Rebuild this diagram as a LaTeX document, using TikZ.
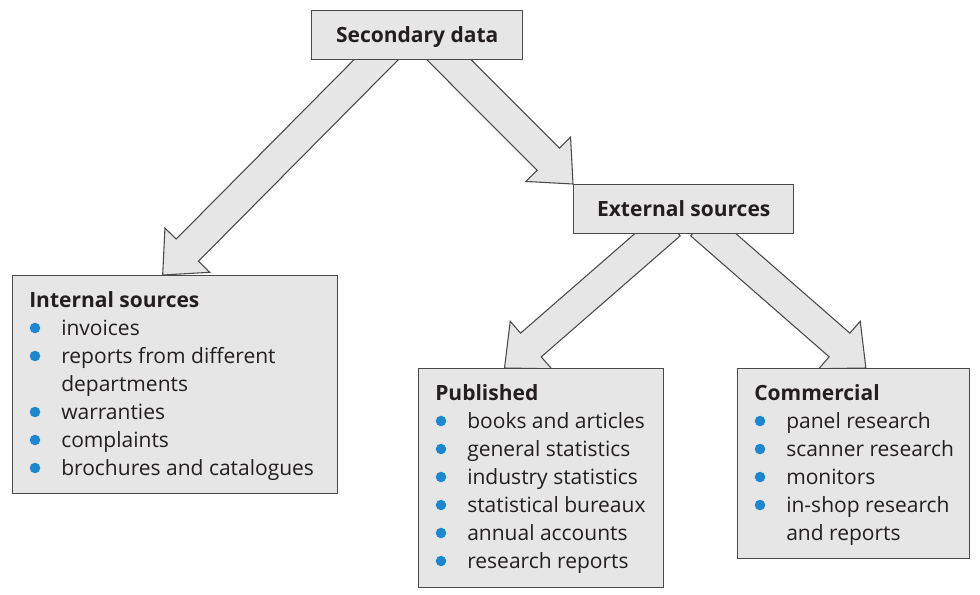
\documentclass[tikz,border=0pt]{standalone}
\usepackage{fontspec}
\setmainfont{Open Sans}
\usetikzlibrary{calc}
\definecolor{boxfill}{HTML}{E6E6E6}
\definecolor{boxline}{HTML}{4A4A4A}
\definecolor{bulletblue}{HTML}{1C86CF}
\definecolor{textcol}{HTML}{231F20}
\pgfdeclarelayer{bg}
\pgfsetlayers{bg,main}
\newcommand\shaftw{11.8pt}
\newcommand\headw{23.6pt}
\newcommand\headl{26.25pt}
\newcommand\blockarrow[2]{%
  \coordinate (BAs) at ($(#1)!-12pt!(#2)$);
  \coordinate (BAh) at ($(#2)!\headl!(#1)$);
  \filldraw[arrowshape]
    ($(BAs)!\shaftw!90:(#2)$) -- ($(BAh)!\shaftw!90:(#2)$) --
    ($(BAh)!\headw!90:(#2)$) -- (#2) --
    ($(BAh)!\headw!-90:(#2)$) -- ($(BAh)!\shaftw!-90:(#2)$) --
    ($(BAs)!\shaftw!-90:(#2)$) -- cycle;}
\newcommand\boxtitle[3]{%
  \node[titletext] (#1) at ($(#2.north west)+(17,32)$) {#3};}
\newcommand\bulletitem[4]{%
  \node[itemtext] (#1) at ($(#2.north west)+(49,{32+28*#3})$) {#4};
  \node[bulletdot] (#1-dot) at ($(#2.north west)+(23,{25+28*#3})$) {};}
\newcommand\contitem[4]{%
  \node[itemtext] (#1) at ($(#2.north west)+(49,{32+28*#3})$) {#4};}
\begin{document}
\begin{tikzpicture}[x=0.75pt,y=-0.75pt,
  font=\fontsize{15.75}{21}\selectfont,
  box/.style={draw=boxline, fill=boxfill, line width=1.1pt, rectangle,
    inner sep=0pt, anchor=north west, text=textcol},
  headbox/.style={box, font=\fontsize{15.75}{21}\selectfont\bfseries,
    text height=11.3pt, text depth=0pt},
  titletext/.style={anchor=base west, inner sep=0pt, text=textcol,
    font=\fontsize{15.75}{21}\selectfont\bfseries},
  itemtext/.style={anchor=base west, inner sep=0pt, text=textcol},
  bulletdot/.style={circle, fill=bulletblue, inner sep=0pt, minimum size=7.9pt},
  arrowshape/.style={draw=boxline, fill=boxfill, line width=0.8pt, line join=miter}]
\useasboundingbox (0,0) rectangle (980,594);
% boxes
\node[headbox, minimum width=158.25pt, minimum height=36.75pt] (sec) at (311,10) {Secondary data};
\node[headbox, minimum width=165pt, minimum height=36.75pt] (ext) at (573,184) {External sources};
\node[box, minimum width=243.75pt, minimum height=163.5pt] (int) at (12,275) {};
\node[box, minimum width=183.75pt, minimum height=164.25pt] (pub) at (418,368) {};
\node[box, minimum width=174pt, minimum height=142.5pt] (com) at (737,368) {};
% internal
\boxtitle{intT}{int}{Internal sources}
\bulletitem{int1}{int}{1}{invoices}
\bulletitem{int2}{int}{2}{reports from different}
\contitem{int2b}{int}{3}{departments}
\bulletitem{int3}{int}{4}{warranties}
\bulletitem{int4}{int}{5}{complaints}
\bulletitem{int5}{int}{6}{brochures and catalogues}
% published
\boxtitle{pubT}{pub}{Published}
\bulletitem{pub1}{pub}{1}{books and articles}
\bulletitem{pub2}{pub}{2}{general statistics}
\bulletitem{pub3}{pub}{3}{industry statistics}
\bulletitem{pub4}{pub}{4}{statistical bureaux}
\bulletitem{pub5}{pub}{5}{annual accounts}
\bulletitem{pub6}{pub}{6}{research reports}
% commercial
\boxtitle{comT}{com}{Commercial}
\bulletitem{com1}{com}{1}{panel research}
\bulletitem{com2}{com}{2}{scanner research}
\bulletitem{com3}{com}{3}{monitors}
\bulletitem{com4}{com}{4}{in-shop research}
\contitem{com4b}{com}{5}{and reports}
% arrow anchors
\coordinate (a1s) at ($(sec.south west)!0.303!(sec.south east)$);
\coordinate (a1e) at ($(int.north west)!0.4615!(int.north east)$);
\coordinate (a2s) at ($(sec.south west)!0.653!(sec.south east)$);
\coordinate (a2e) at (ext.north west);
\coordinate (a3s) at ($(ext.south west)!0.383!(ext.south east)$);
\coordinate (a3e) at ($(pub.north west)!0.351!(pub.north east)$);
\coordinate (a4s) at ($(ext.south west)!0.632!(ext.south east)$);
\coordinate (a4e) at ($(com.north west)!0.552!(com.north east)$);
\begin{pgfonlayer}{bg}
\blockarrow{a1s}{a1e}
\blockarrow{a2s}{a2e}
\blockarrow{a3s}{a3e}
\blockarrow{a4s}{a4e}
\end{pgfonlayer}
\end{tikzpicture}
\end{document}
